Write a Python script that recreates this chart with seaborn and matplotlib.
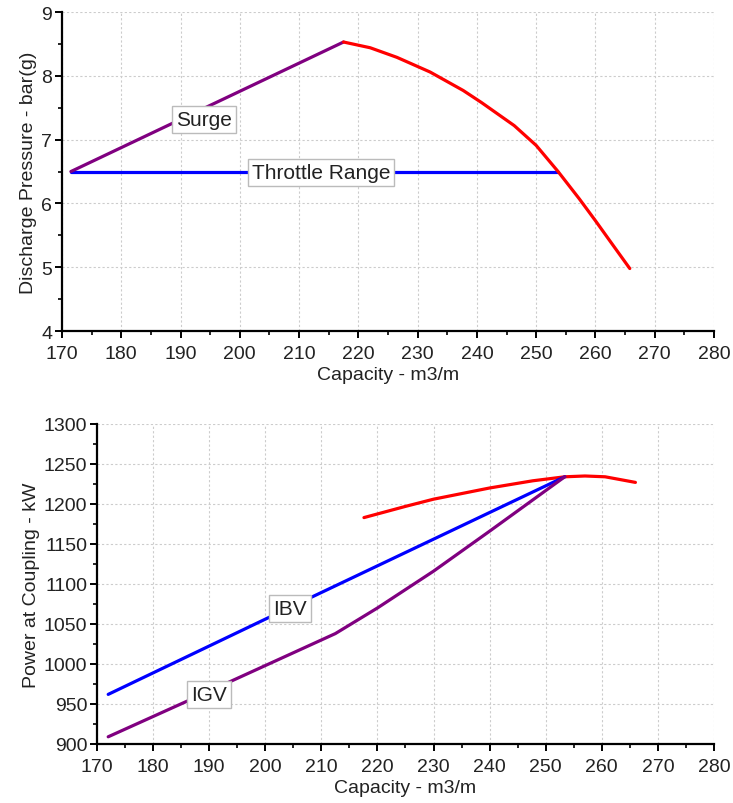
import numpy as np
import pandas as pd
import matplotlib
matplotlib.use("Agg")
import matplotlib.pyplot as plt
from matplotlib.ticker import MultipleLocator
import seaborn as sns

# ---- data ----
surge_x = [171.5, 217.5]
surge_y = [6.5, 8.53]
throttle_x = [171.5, 253.7]
throttle_y = [6.5, 6.5]
perf_x = [217.5, 222, 226.5, 232.1, 237.7, 240.8, 246.3, 250, 253.7, 257.3, 260, 262.7, 265.8]
perf_y = [8.53, 8.44, 8.29, 8.06, 7.77, 7.58, 7.22, 6.91, 6.50, 6.07, 5.73, 5.38, 4.98]

ibv_x = [172, 200, 230, 253.4]
ibv_y = [962, 1056, 1156, 1234]
igv_x = [172, 190, 200, 212.5, 220, 230, 240, 253.4]
igv_y = [909, 966, 998, 1038, 1070, 1116, 1166, 1234]
pwr_x = [217.6, 225, 230, 240, 247.7, 253.4, 257, 260.6, 266]
pwr_y = [1183, 1197, 1206, 1220, 1229, 1234, 1235, 1234, 1227]

sns.set_theme(style="white")
plt.rcParams['font.family'] = ['Liberation Sans', 'DejaVu Sans']

fig = plt.figure(figsize=(7.33, 8.04), dpi=100)
ax1 = fig.add_axes([0.0846, 0.587, 0.974 - 0.0846, 0.9838 - 0.587])
ax2 = fig.add_axes([0.1323, 0.0734, 0.974 - 0.1323, 0.4714 - 0.0734])

PURPLE = "#800080"
BLUE = "#0000FF"
RED = "#FF0000"
LW = 2.3
TXT = "#222222"
FS_TICK = 14
FS_LAB = 14
FS_BOX = 15

def style(ax, xlabel, ylabel, ymaj, ymin):
    ax.set_xlim(170, 280)
    ax.xaxis.set_major_locator(MultipleLocator(10))
    ax.xaxis.set_minor_locator(MultipleLocator(5))
    ax.yaxis.set_major_locator(MultipleLocator(ymaj))
    ax.yaxis.set_minor_locator(MultipleLocator(ymin))
    ax.grid(True, which="major", linestyle=(0, (2, 2)), color="#cccccc", linewidth=0.8)
    for s in ["top", "right"]:
        ax.spines[s].set_visible(False)
    for s in ["left", "bottom"]:
        ax.spines[s].set_color("black")
        ax.spines[s].set_linewidth(1.6)
    ax.tick_params(which="major", direction="out", length=5, width=1.4, color="black",
                   labelsize=FS_TICK, labelcolor=TXT, left=True, bottom=True, pad=2)
    ax.tick_params(axis="x", which="major", pad=5)
    ax.tick_params(which="minor", direction="out", length=3, width=1.2, color="black",
                   left=True, bottom=True)
    ax.set_xlabel(xlabel, fontsize=FS_LAB, color=TXT, labelpad=3)
    ax.set_ylabel(ylabel, fontsize=FS_LAB, color=TXT, labelpad=3)

box = dict(boxstyle="square,pad=0.2", facecolor="white", edgecolor="#bbbbbb", linewidth=1)

# ---- top chart ----
sns.lineplot(x=throttle_x, y=throttle_y, ax=ax1, color=BLUE, linewidth=LW)
sns.lineplot(x=surge_x, y=surge_y, ax=ax1, color=PURPLE, linewidth=LW)
sns.lineplot(x=perf_x, y=perf_y, ax=ax1, color=RED, linewidth=LW, sort=False)
ax1.set_ylim(4, 9)
style(ax1, "Capacity - m3/m", "Discharge Pressure - bar(g)", 1, 0.5)
ax1.text(194, 7.32, "Surge", ha="center", va="center", fontsize=FS_BOX, color=TXT, bbox=box, zorder=5)
ax1.text(213.7, 6.49, "Throttle Range", ha="center", va="center", fontsize=FS_BOX, color=TXT, bbox=box, zorder=5)

# ---- bottom chart ----
sns.lineplot(x=pwr_x, y=pwr_y, ax=ax2, color=RED, linewidth=LW, sort=False)
sns.lineplot(x=ibv_x, y=ibv_y, ax=ax2, color=BLUE, linewidth=LW)
sns.lineplot(x=igv_x, y=igv_y, ax=ax2, color=PURPLE, linewidth=LW)
ax2.set_ylim(900, 1300)
style(ax2, "Capacity - m3/m", "Power at Coupling - kW", 50, 25)
ax2.text(204.4, 1069, "IBV", ha="center", va="center", fontsize=FS_BOX, color=TXT, bbox=box, zorder=5)
ax2.text(190, 962, "IGV", ha="center", va="center", fontsize=FS_BOX, color=TXT, bbox=box, zorder=5)

fig.savefig("out.png", dpi=100)
